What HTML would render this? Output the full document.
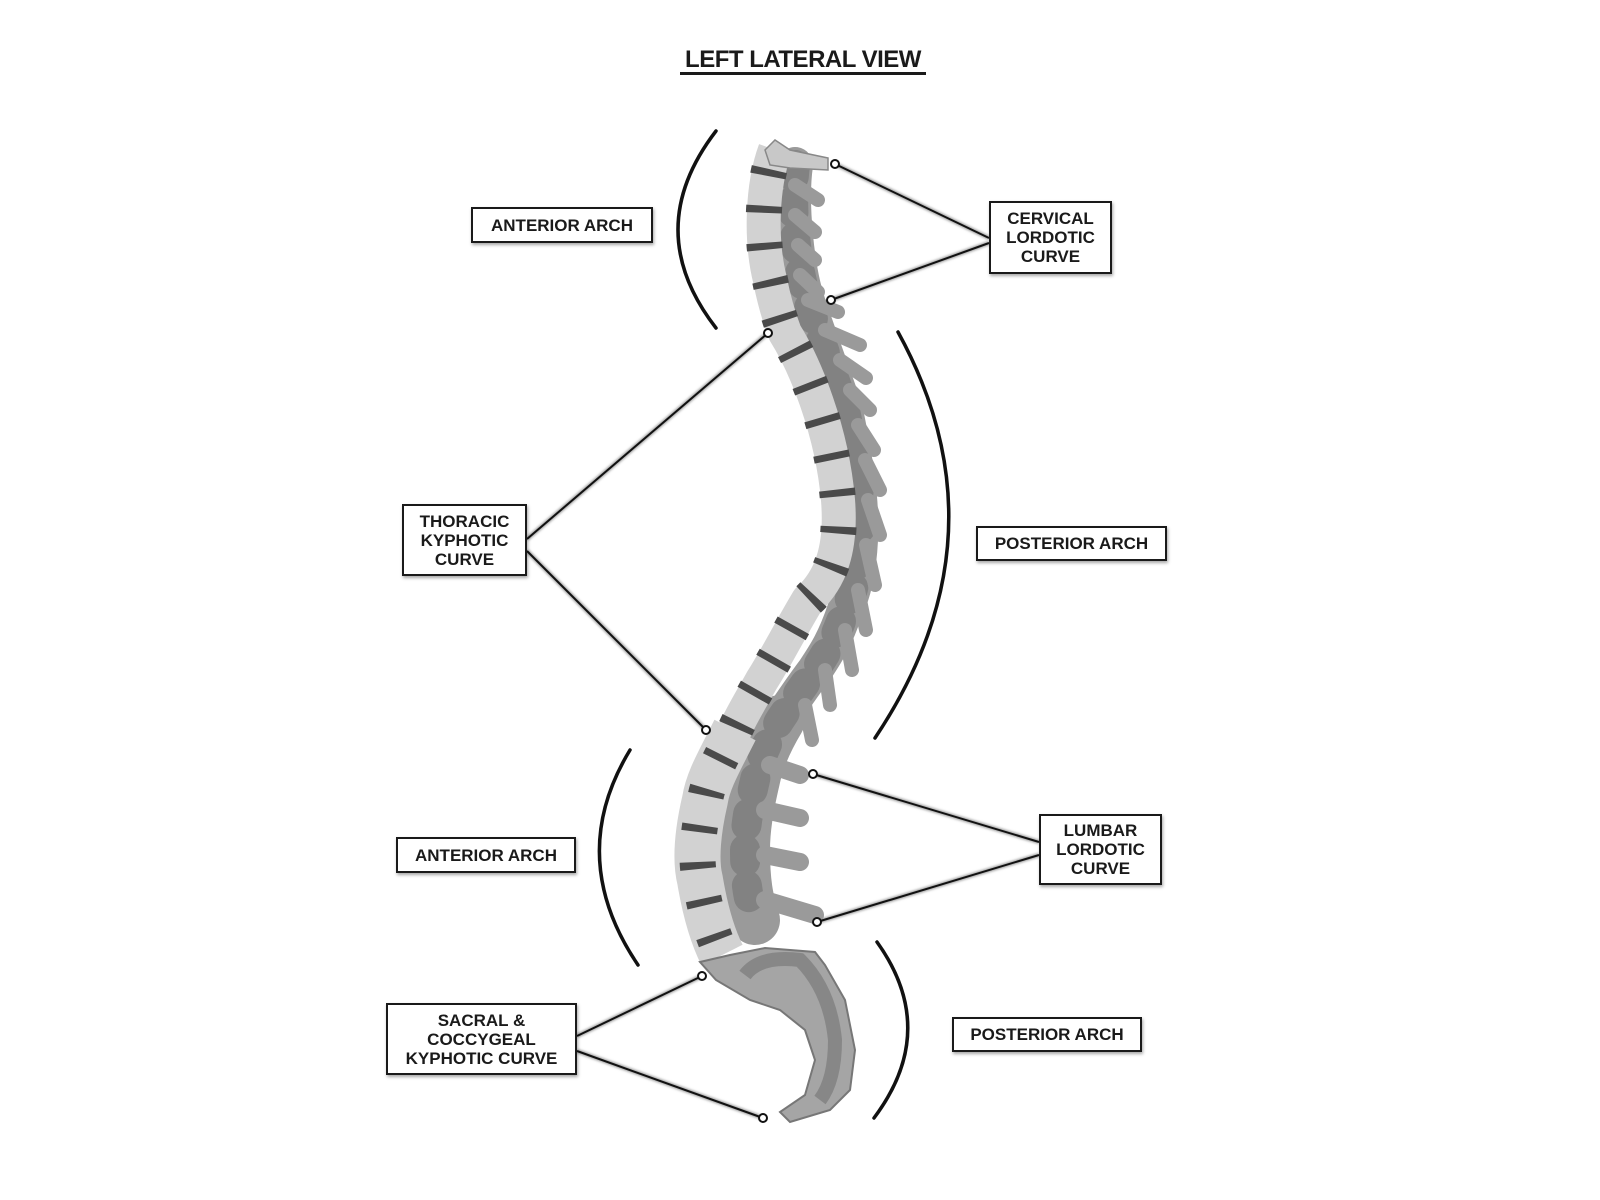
<!DOCTYPE html>
<html><head><meta charset="utf-8"><style>
html,body{margin:0;padding:0;background:#fff;}
body{width:1600px;height:1200px;position:relative;overflow:hidden;font-family:"Liberation Sans",sans-serif;}
.b{position:absolute;border:2.5px solid #1a1a1a;background:#fff;box-shadow:1px 2px 3px rgba(0,0,0,.35);box-sizing:border-box;display:flex;align-items:center;justify-content:center;text-align:center;font-weight:bold;font-size:17px;line-height:19px;color:#1a1a1a;}
.t{position:absolute;left:680px;top:46px;width:246px;text-align:center;font-weight:bold;font-size:24px;color:#1a1a1a;letter-spacing:-0.5px;}
.u{position:absolute;left:680px;top:72px;width:246px;height:3px;background:#1a1a1a;}
</style></head><body>
<svg width="1600" height="1200" style="position:absolute;left:0;top:0">
<defs><filter id="sh"><feGaussianBlur stdDeviation="1.2"/></filter></defs>
<g fill="none" stroke="#111" stroke-width="3.5" stroke-linecap="round">
<path d="M716,131 Q640,230 716,328"/>
<path d="M898,332 Q1010,536 875,738"/>
<path d="M630,750 Q565,857 638,965"/>
<path d="M877,942 Q940,1030 874,1118"/>
</g>
<!-- posterior elements -->
<g fill="none" stroke-linecap="round" stroke-linejoin="round">
<path d="M795,165 C790,200 795,270 810,310 C820,340 835,380 845,410 C855,460 862,500 860,540 C858,580 850,600 845,610 C835,640 825,655 815,670 C800,690 790,705 780,720 C765,745 758,765 755,780 C748,810 745,830 745,850 C745,880 748,900 755,920" stroke="#9a9a9a" stroke-width="36"/>
<path d="M780,720 C765,745 758,765 755,780 C748,810 745,830 745,850 C745,880 748,900 755,920" stroke="#9a9a9a" stroke-width="50"/>
<path d="M795,165 C790,200 795,270 810,310 C820,340 835,380 845,410 C855,460 862,500 860,540 C858,580 850,600 845,610 C835,640 825,655 815,670 C800,690 790,705 780,720 C765,745 758,765 755,780 C748,810 745,830 745,850 C745,880 748,900 755,920" stroke="#777" stroke-width="30" stroke-dasharray="12 24" opacity=".7"/>
</g>
<!-- spinous processes -->
<g stroke="#9a9a9a" stroke-width="14" stroke-linecap="round">
<line x1="795" y1="185" x2="818" y2="200"/>
<line x1="795" y1="215" x2="815" y2="232"/>
<line x1="798" y1="245" x2="815" y2="260"/>
<line x1="800" y1="275" x2="818" y2="292"/>
<line x1="808" y1="300" x2="838" y2="312"/>
<line x1="825" y1="330" x2="860" y2="345"/>
<line x1="840" y1="360" x2="866" y2="378"/>
<line x1="850" y1="390" x2="870" y2="410"/>
<line x1="858" y1="425" x2="874" y2="450"/>
<line x1="865" y1="460" x2="880" y2="490"/>
<line x1="868" y1="500" x2="880" y2="535"/>
<line x1="866" y1="545" x2="875" y2="585"/>
<line x1="858" y1="590" x2="866" y2="630"/>
<line x1="845" y1="630" x2="852" y2="670"/>
<line x1="825" y1="670" x2="830" y2="705"/>
<line x1="805" y1="705" x2="812" y2="740"/>
</g>
<g stroke="#9a9a9a" stroke-width="18" stroke-linecap="round">
<line x1="770" y1="765" x2="800" y2="775"/>
<line x1="765" y1="810" x2="800" y2="818"/>
<line x1="765" y1="855" x2="800" y2="862"/>
<line x1="765" y1="900" x2="815" y2="915"/>
</g>
<!-- vertebral bodies -->
<g fill="none" stroke-linecap="butt" stroke-linejoin="round">
<path d="M775,150 C762,185 760,240 770,280 C775,305 780,320 785,333 C805,365 832,430 838,500 C842,550 830,580 808,600 C790,630 775,660 762,680 C748,705 740,718 735,730 C720,760 708,780 705,800 C698,830 695,860 700,880 C705,910 712,935 722,955" stroke="#d2d2d2" stroke-width="34"/>
<path d="M735,730 C720,760 708,780 705,800 C698,830 695,860 700,880 C705,910 712,935 722,955" stroke="#d2d2d2" stroke-width="46"/>
<path d="M775,150 C762,185 760,240 770,280 C775,305 780,320 785,333 C805,365 832,430 838,500 C842,550 830,580 808,600 C790,630 775,660 762,680 C748,705 740,718 735,730 C720,760 708,780 705,800 C698,830 695,860 700,880 C705,910 712,935 722,955" stroke="#4a4a4a" stroke-width="36" stroke-dasharray="7 30" stroke-dashoffset="-20"/>
</g>
<!-- atlas -->
<path d="M765,150 L775,140 L790,150 L828,158 L828,170 L790,168 L770,165 Z" fill="#c8c8c8" stroke="#888" stroke-width="1.5"/>
<!-- sacrum -->
<path d="M700,962 L716,980 L750,1000 L780,1010 L805,1030 L815,1060 L805,1095 L780,1112 L790,1122 L830,1110 L850,1090 L855,1050 L845,1000 L825,965 L815,952 L765,948 L730,955 Z" fill="#a5a5a5" stroke="#777" stroke-width="2"/>
<path d="M745,975 Q760,955 800,960 Q830,990 835,1040 Q835,1080 820,1100" fill="none" stroke="#7a7a7a" stroke-width="14" opacity=".7"/>
<!-- leaders -->
<g filter="url(#sh)" stroke="#999" stroke-width="4" fill="none">
<path d="M835,164L989,238M831,300L989,243M768,333L527,539M706,730L527,551M813,774L1039,842M817,922L1039,855M702,976L577,1036M763,1118L577,1051"/>
</g>
<g stroke="#111" stroke-width="2" fill="none">
<path d="M835,164L989,238M831,300L989,243M768,333L527,539M706,730L527,551M813,774L1039,842M817,922L1039,855M702,976L577,1036M763,1118L577,1051"/>
</g>
<g fill="#fff" stroke="#111" stroke-width="2">
<circle cx="835" cy="164" r="4"/><circle cx="831" cy="300" r="4"/>
<circle cx="768" cy="333" r="4"/><circle cx="706" cy="730" r="4"/>
<circle cx="813" cy="774" r="4"/><circle cx="817" cy="922" r="4"/>
<circle cx="702" cy="976" r="4"/><circle cx="763" cy="1118" r="4"/>
</g>
</svg>
<div class="t">LEFT LATERAL VIEW</div><div class="u"></div>
<div class="b" style="left:471px;top:207px;width:182px;height:36px;">ANTERIOR ARCH</div>
<div class="b" style="left:989px;top:201px;width:123px;height:73px;">CERVICAL<br>LORDOTIC<br>CURVE</div>
<div class="b" style="left:402px;top:504px;width:125px;height:72px;">THORACIC<br>KYPHOTIC<br>CURVE</div>
<div class="b" style="left:976px;top:526px;width:191px;height:35px;">POSTERIOR ARCH</div>
<div class="b" style="left:396px;top:837px;width:180px;height:36px;">ANTERIOR ARCH</div>
<div class="b" style="left:1039px;top:814px;width:123px;height:71px;">LUMBAR<br>LORDOTIC<br>CURVE</div>
<div class="b" style="left:386px;top:1003px;width:191px;height:72px;">SACRAL &amp;<br>COCCYGEAL<br>KYPHOTIC CURVE</div>
<div class="b" style="left:952px;top:1017px;width:190px;height:35px;">POSTERIOR ARCH</div>
</body></html>
